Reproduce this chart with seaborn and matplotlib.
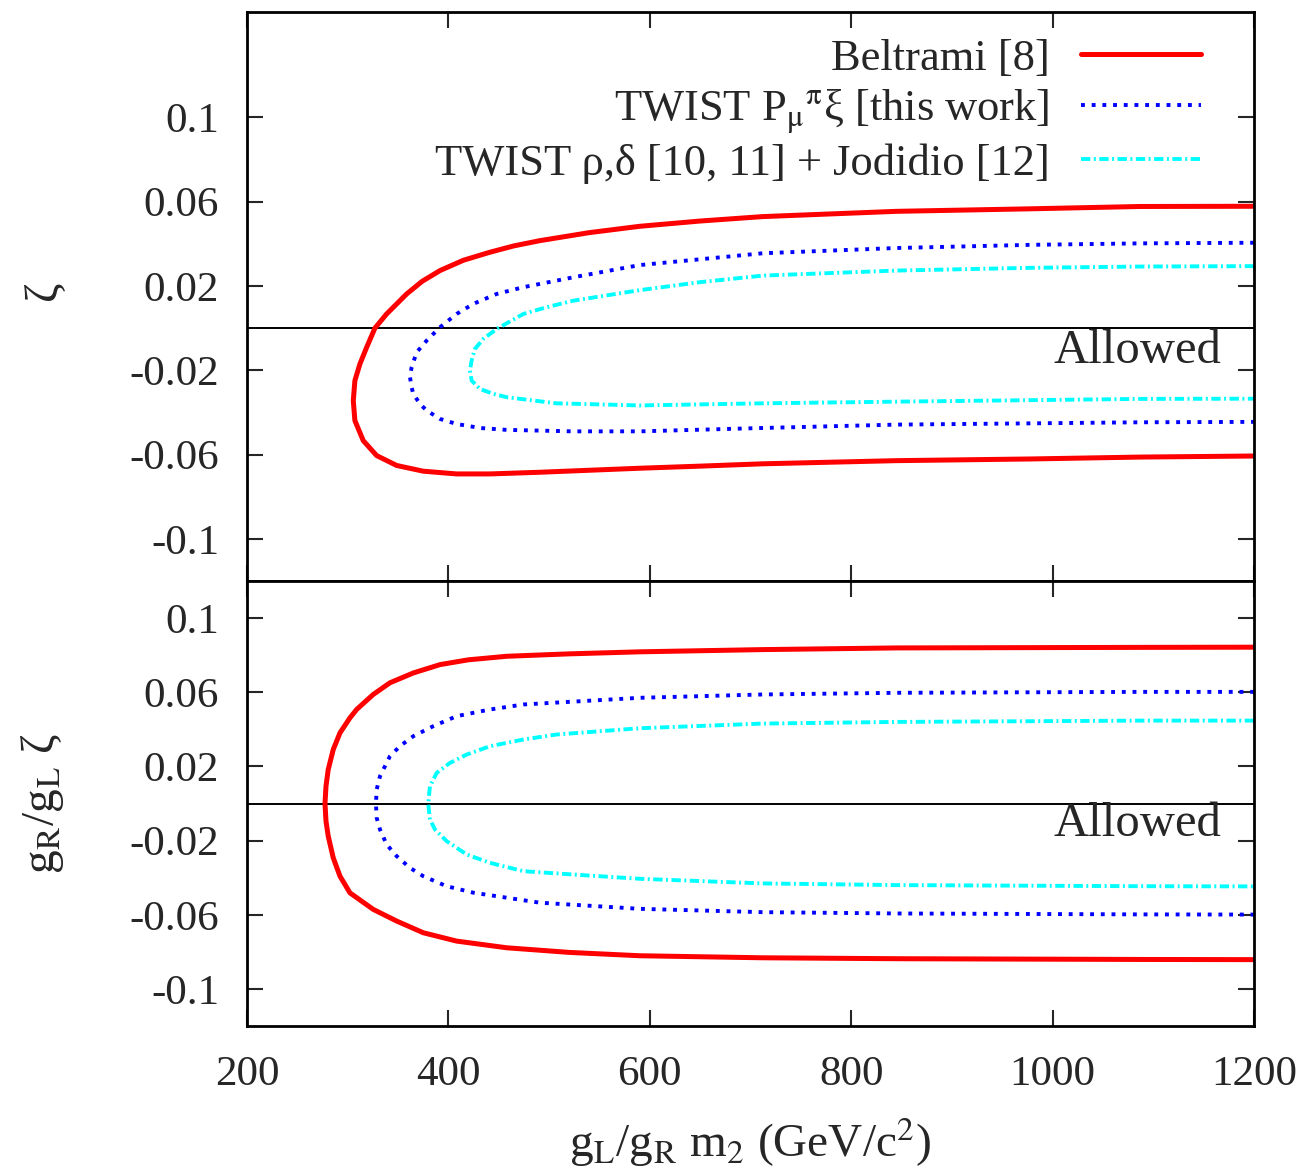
import matplotlib
matplotlib.use("Agg")
import matplotlib.pyplot as plt
import seaborn as sns

# ---- data (x = gL/gR m2, y = zeta) ----
# top panel: zeta
beltrami_top_x = [1200, 1087, 978, 845, 712, 650, 590, 540, 491, 465, 441.3, 415, 391.7, 374,
                  358.6, 338.7, 327.1, 318.9, 312.2, 307.2, 305.6, 307.2, 315.5, 328.8, 348.7,
                  375.1, 408.2, 441.3, 491, 590, 650, 712, 845, 978, 1087, 1200]
beltrami_top_y = [0.0578, 0.0577, 0.0566, 0.0554, 0.0529, 0.0508, 0.0483, 0.0453, 0.0415, 0.039,
                  0.036, 0.0322, 0.0273, 0.0222, 0.0162, 0.0067, 0.0, -0.0091, -0.017, -0.0249,
                  -0.0344, -0.0439, -0.0534, -0.0605, -0.0652, -0.0679, -0.0692, -0.0692,
                  -0.0684, -0.0665, -0.0655, -0.0644, -0.0629, -0.0621, -0.0612, -0.0607]

twist_top_x = [1200, 1087, 978, 845, 712, 590, 524, 474.4, 448, 424.8, 408.2, 391.7, 378.5,
               368.5, 363.5, 361.9, 363.5, 365.2, 371.8, 378.5, 391.7, 408.2, 431.4, 457.9,
               524, 590, 712, 845, 978, 1087, 1200]
twist_top_y = [0.0405, 0.0402, 0.0395, 0.038, 0.0355, 0.0299, 0.0241, 0.0194, 0.0162, 0.0115,
               0.0067, 0.0004, -0.0059, -0.0115, -0.0186, -0.0233, -0.0281, -0.0312, -0.036,
               -0.0391, -0.0431, -0.0455, -0.0474, -0.0483, -0.049, -0.049, -0.0474, -0.0458,
               -0.0452, -0.0447, -0.0445]

jodidio_top_x = [1200, 1087, 978, 845, 712, 650, 590, 524, 497.6, 474.4, 448, 434.7, 426.4,
                 423.1, 421.4, 423.1, 431.4, 444.6, 457.9, 507.4, 590, 712, 845, 978, 1087, 1200]
jodidio_top_y = [0.0294, 0.0292, 0.0286, 0.0273, 0.0249, 0.0218, 0.018, 0.013, 0.0099, 0.0067,
                 -0.0004, -0.0051, -0.0099, -0.0154, -0.0202, -0.0249, -0.0289, -0.0312,
                 -0.0328, -0.0357, -0.0367, -0.0357, -0.0349, -0.0342, -0.0336, -0.0335]

# bottom panel: gR/gL zeta
beltrami_bot_x = [1200, 1087, 845, 712, 590, 520, 457.9, 420, 391.7, 365.2, 342, 325.4, 308.9,
                  302.3, 292.4, 285.7, 280.7, 278.5, 277.5, 278.5, 280.7, 285.7, 292.4, 302.3,
                  325.4, 348.7, 375.1, 408.2, 457.9, 520, 590, 712, 845, 1087, 1200]
beltrami_bot_y = [0.0843, 0.0842, 0.0839, 0.083, 0.0818, 0.0807, 0.0794, 0.0775, 0.0749, 0.0704,
                  0.0651, 0.0588, 0.0507, 0.0462, 0.0381, 0.0291, 0.0183, 0.0093, 0.0, -0.0095,
                  -0.0176, -0.0293, -0.0392, -0.0482, -0.0571, -0.0634, -0.0697, -0.0742,
                  -0.0778, -0.0803, -0.0821, -0.0832, -0.0837, -0.0841, -0.0842]

twist_bot_x = [1200, 1087, 845, 712, 590, 474.4, 441.3, 408.2, 385, 365.2, 351.9, 342, 332.1,
               328.8, 328.1, 328.8, 332.1, 338.7, 348.7, 361.9, 375.1, 398.3, 424.8, 491, 590,
               712, 845, 1087, 1200]
twist_bot_y = [0.0602, 0.0602, 0.0597, 0.0588, 0.057, 0.0534, 0.0507, 0.0471, 0.0417, 0.0363,
               0.0309, 0.0255, 0.0147, 0.0075, 0.0, -0.0077, -0.014, -0.0221, -0.0284, -0.0347,
               -0.0392, -0.0446, -0.0481, -0.0535, -0.0568, -0.0586, -0.0593, -0.0598, -0.0599]

jodidio_bot_x = [1200, 1087, 845, 712, 590, 507.4, 474.4, 441.3, 418.2, 401.6, 388.4, 381.7,
                 380, 381.7, 386.7, 398.3, 418.2, 441.3, 474.4, 524, 590, 712, 845, 1087, 1200]
jodidio_bot_y = [0.0447, 0.0447, 0.044, 0.0431, 0.0406, 0.0372, 0.0345, 0.0309, 0.0264, 0.0219,
                 0.0165, 0.0093, 0.0, -0.0086, -0.014, -0.0203, -0.0275, -0.032, -0.0365,
                 -0.0383, -0.0406, -0.0431, -0.044, -0.0446, -0.0447]

labels = ["Beltrami [8]",
          r"TWIST P$_\mathrm{μ}{}^\mathrm{π}$ξ [this work]",
          "TWIST ρ,δ [10, 11] + Jodidio [12]"]
colors = ["#ff0000", "#0000ff", "#00ffff"]
styles = ["-", (0, (1, 1.75)), (0, (2.4, 0.9, 0.5, 0.9))]
widths = [3.6, 2.8, 2.8]

yticks = [0.1, 0.06, 0.02, -0.02, -0.06, -0.1]
ytick_labels = ["0.1", "0.06", "0.02", "-0.02", "-0.06", "-0.1"]
xticks = [200, 400, 600, 800, 1000, 1200]

sns.set_theme(style="ticks")
plt.rcParams["font.family"] = ["Liberation Serif", "DejaVu Serif"]
plt.rcParams["mathtext.fontset"] = "stix"
plt.rcParams["axes.unicode_minus"] = False

fig = plt.figure(figsize=(13.1, 11.73), dpi=100)
ax_top = fig.add_axes([0.1885, 0.5047, 0.7688, 0.4851])
ax_bot = fig.add_axes([0.1885, 0.1253, 0.7688, 0.3794])

panels = [
    (ax_top, [(beltrami_top_x, beltrami_top_y), (twist_top_x, twist_top_y),
              (jodidio_top_x, jodidio_top_y)], (-0.12, 0.15)),
    (ax_bot, [(beltrami_bot_x, beltrami_bot_y), (twist_bot_x, twist_bot_y),
              (jodidio_bot_x, jodidio_bot_y)], (-0.12, 0.12)),
]

for ax, curves, ylim in panels:
    ax.axhline(0, color="black", lw=1.4, zorder=1)
    for (xs, ys), lab, c, ls, lw in zip(curves, labels, colors, styles, widths):
        sns.lineplot(x=xs, y=ys, sort=False, estimator=None, ax=ax, color=c,
                     linestyle=ls, lw=lw, label=lab if ax is ax_top else None)
    ax.set_xlim(200, 1200)
    ax.set_ylim(*ylim)
    ax.set_yticks(yticks)
    ax.set_yticklabels(ytick_labels)
    ax.set_xticks(xticks)
    ax.tick_params(direction="in", length=11.5, width=1.5, top=True, right=True,
                   labelsize=31, pad=20)
    for sp in ax.spines.values():
        sp.set_linewidth(2.0)
        sp.set_color("black")
    ax.text(1168, -0.0108, "Allowed", fontsize=35, ha="right", va="center")

ax_top.tick_params(labelbottom=False)
ax_bot.set_xticklabels([str(v) for v in xticks])
ax_bot.tick_params(axis="x", pad=21)

ax_top.set_ylabel("ζ", fontsize=34)
ax_top.yaxis.set_label_coords(-0.18, 0.51)
ax_bot.set_ylabel(r"g$_\mathrm{R}$/g$_\mathrm{L}$ ζ", fontsize=34)
ax_bot.yaxis.set_label_coords(-0.18, 0.5)
ax_bot.set_xlabel(r"g$_\mathrm{L}$/g$_\mathrm{R}$ m$_2$ (GeV/c$^2$)", fontsize=34)
ax_bot.xaxis.set_label_coords(0.5, -0.2)

ax_top.legend(loc="upper right", bbox_to_anchor=(0.947, 0.953), frameon=False,
              fontsize=32, markerfirst=False, handlelength=2.7, handletextpad=0.7,
              labelspacing=0.18, borderaxespad=0, borderpad=0)

fig.savefig("out.png", dpi=100)
